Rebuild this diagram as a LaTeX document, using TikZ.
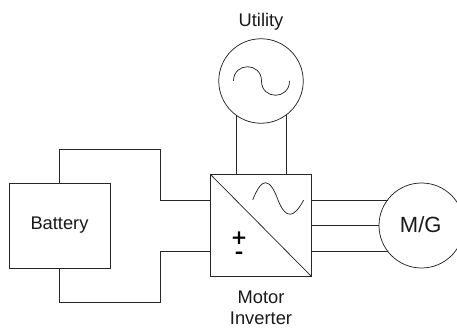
\documentclass[tikz,border=0pt]{standalone}
\usepackage{fontspec}
\setmainfont{Liberation Sans}
\newfontfamily\symfont[FakeBold=1.2]{Liberation Sans}
\begin{document}
\begin{tikzpicture}[x=1pt,y=-1pt,
  wire/.style={draw=black!85,line width=0.75pt},
  lbl/.style={inner sep=0pt,font=\fontsize{18.3}{21}\selectfont,align=center,text=black!90}]
\useasboundingbox (0,0) rectangle (457,329);
\begin{scope}
\clip (0,0) rectangle (457,329);
\node[draw=black!85,line width=0.75pt,circle,minimum size=84.5pt,inner sep=0pt] (util) at (261,81) {};
\node[draw=black!85,line width=0.75pt,minimum width=100.5pt,minimum height=101.5pt,inner sep=0pt] (inv) at (261,225.5) {};
\node[draw=black!85,line width=0.75pt,minimum width=101pt,minimum height=85pt,inner sep=0pt,lbl] (bat) at (59.5,225.5) {Battery};
\node[draw=black!85,line width=0.75pt,circle,minimum size=85pt,inner sep=0pt] (mg) at (421.5,225.5) {};
\end{scope}
\node[lbl,font=\fontsize{22}{24}\selectfont] (mgt) at (420.7,224.5) {M/G};
\node[lbl] (utext) at (261,21.5) {Utility};
\node[lbl] (invt) at (261,308) {Motor\\Inverter};
\node[inner sep=0pt,align=center,anchor=base,font=\symfont\fontsize{25}{13.5}\selectfont] (pm) at (239,259.5) {+\\-};
\draw[wire] (inv.north west) -- (inv.south east);
% sine waves
\draw[wire] (233.5,81) .. controls (233.5,62) and (261.5,62) .. (261.5,81) .. controls (261.5,100) and (289.5,100) .. (289.5,81);
\draw[wire] (252.7,200) .. controls (262,176) and (270,178) .. (278,200) .. controls (286,220) and (294,218) .. (303.7,200);
% utility connections
\draw[wire] (236,115) -- (236,175);
\draw[wire] (286,115) -- (286,175);
% battery connections
\draw[wire] (bat.north) -- (59.5,149) -- (160.5,149) -- (160.5,200) -- (211,200);
\draw[wire] (bat.south) -- (59.5,302) -- (160.5,302) -- (160.5,251) -- (211,251);
% motor connections
\draw[wire] (311,200) -- (388,200);
\draw[wire] (311,225.5) -- (379,225.5);
\draw[wire] (311,251) -- (388,251);
\end{tikzpicture}
\end{document}
